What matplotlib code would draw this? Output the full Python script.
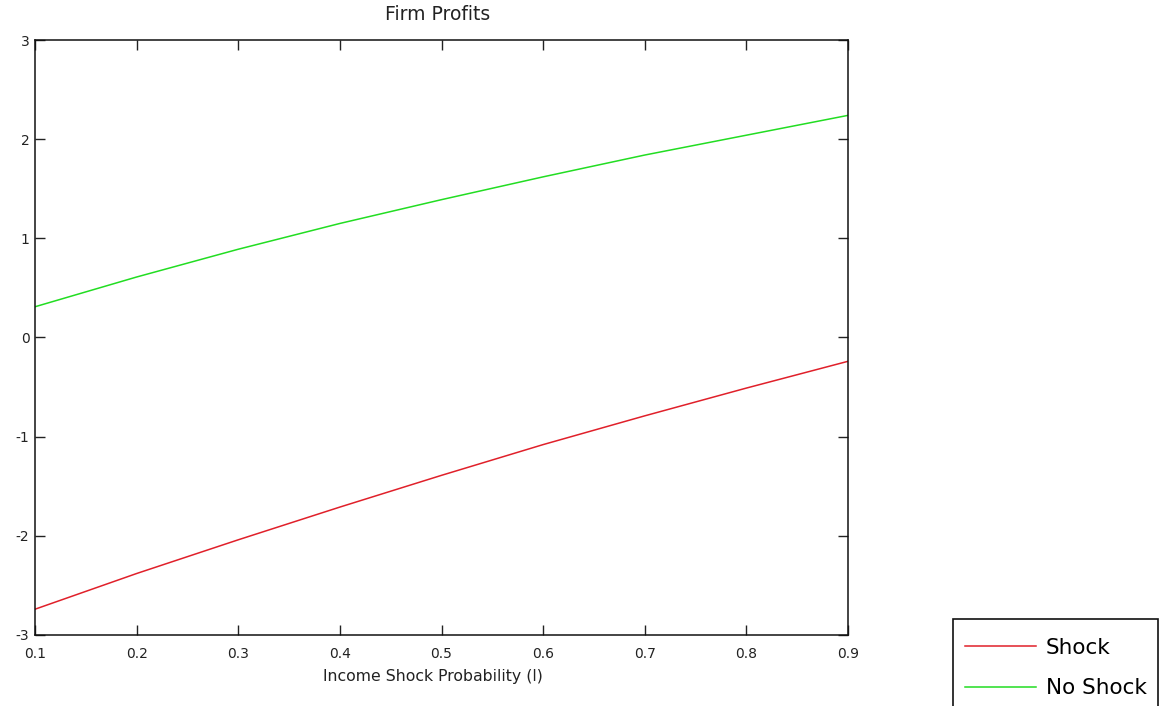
import numpy as np
import matplotlib
matplotlib.use("Agg")
import matplotlib.pyplot as plt
from matplotlib.patches import Rectangle

# ------------------ Data ------------------
prob = [0.1, 0.2, 0.3, 0.4, 0.5, 0.6, 0.7, 0.8, 0.9]
shock = [-2.74, -2.38, -2.04, -1.71, -1.39, -1.08, -0.79, -0.51, -0.24]
no_shock = [0.31, 0.61, 0.89, 1.15, 1.39, 1.62, 1.84, 2.04, 2.24]
x_ticks = [0.1, 0.2, 0.3, 0.4, 0.5, 0.6, 0.7, 0.8, 0.9]
y_ticks = [-3, -2, -1, 0, 1, 2, 3]
# ------------------------------------------

plt.rcParams["font.family"] = ["DejaVu Sans"]
plt.rcParams["axes.unicode_minus"] = False

W, H = 1159, 706
fig = plt.figure(figsize=(W / 100, H / 100), dpi=100)
ax = fig.add_axes([35 / W, 1 - 635 / H, (848 - 35) / W, (635 - 40) / H])

l1, = ax.plot(prob, shock, color="#e0202a", lw=1.1, label="Shock")
l2, = ax.plot(prob, no_shock, color="#22dd22", lw=1.1, label="No Shock")

ax.set_xlim(0.1, 0.9)
ax.set_ylim(-3, 3)
ax.set_xticks(x_ticks)
ax.set_xticklabels([f"{v:g}" for v in x_ticks])
ax.set_yticks(y_ticks)
ax.tick_params(direction="in", top=True, right=True, length=7, width=1,
               labelsize=10, pad=4, colors="#222222")
ax.tick_params(axis="x", pad=9)
for s in ax.spines.values():
    s.set_linewidth(1.1)
    s.set_color("#111111")

fig.text(438 / W, 1 - 15 / H, "Firm Profits", fontsize=13.5,
         ha="center", va="center", color="#222222")
fig.text(433 / W, 1 - 677 / H, "Income Shock Probability (l)", fontsize=11.3,
         ha="center", va="center", color="#222222")

# legend box drawn separately so its padding can match the original
fig.patches.append(Rectangle((953 / W, 1 - 712 / H), (1158 - 953) / W, (712 - 619) / H,
                             transform=fig.transFigure, fill=False,
                             edgecolor="#111111", lw=1.2))
leg = fig.legend(handles=[l1, l2], loc="upper left",
                 bbox_to_anchor=(965 / W, 1 - 638 / H),
                 fontsize=15.5, frameon=False,
                 handlelength=3.3, handletextpad=0.45, borderpad=0,
                 labelspacing=0.95, borderaxespad=0)

fig.savefig("out.png", dpi=100)
